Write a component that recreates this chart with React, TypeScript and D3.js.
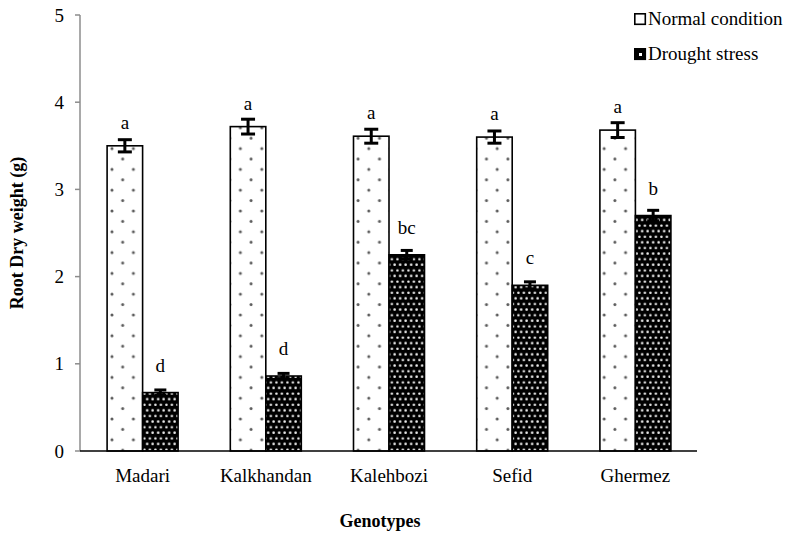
import React from 'react';
import * as d3 from 'd3';

const categories = ['Madari', 'Kalkhandan', 'Kalehbozi', 'Sefid', 'Ghermez'];
const normalValues = [3.5, 3.72, 3.61, 3.6, 3.68];
const normalErrors = [0.07, 0.085, 0.08, 0.07, 0.085];
const droughtValues = [0.67, 0.86, 2.25, 1.9, 2.7];
const droughtErrors = [0.03, 0.03, 0.05, 0.04, 0.06];
const normalLetters = ['a', 'a', 'a', 'a', 'a'];
const droughtLetters = ['d', 'd', 'bc', 'c', 'b'];
const yTicks = [0, 1, 2, 3, 4, 5];
const seriesNames = ['Normal condition', 'Drought stress'];

const W = 792;
const H = 537;
const FONT = '"Liberation Serif", "Times New Roman", serif';

export default function App() {
  const x = d3.scaleBand<string>().domain(categories).range([81, 697]).paddingInner(0).paddingOuter(0);
  const y = d3.scaleLinear().domain([0, 5]).range([451, 15]);
  const barW = 35.5;

  const series = [
    { name: seriesNames[0], values: normalValues, errors: normalErrors, letters: normalLetters, fill: 'url(#dotsLight)', offset: -barW, capW: 14 },
    { name: seriesNames[1], values: droughtValues, errors: droughtErrors, letters: droughtLetters, fill: 'url(#dotsDark)', offset: 0, capW: 12 },
  ];

  return (
    <svg width={W} height={H} style={{ position: 'absolute', left: 0, top: 0, background: '#fff' }} fontFamily={FONT}>
      <defs>
        <pattern id="dotsLight" patternUnits="userSpaceOnUse" width={21.4} height={20.8} x={112} y={0}>
          <rect width={21.4} height={20.8} fill="#fff" />
          <circle cx={0} cy={3} r={1.5} fill="#5a5a5a" />
          <circle cx={21.4} cy={3} r={1.5} fill="#5a5a5a" />
          <circle cx={10.7} cy={13.4} r={1.5} fill="#5a5a5a" />
        </pattern>
        <pattern id="dotsDark" patternUnits="userSpaceOnUse" width={5.5} height={11.2} x={0} y={0}>
          <rect width={5.5} height={11.2} fill="#000" />
          <circle cx={1.4} cy={1.6} r={1.25} fill="#f2f2f2" />
          <circle cx={4.15} cy={7.2} r={1.25} fill="#f2f2f2" />
        </pattern>
      </defs>

      {/* Y axis */}
      <line x1={80} x2={80} y1={y(5)} y2={y(0)} stroke="#8c8c8c" strokeWidth={1.5} />
      {yTicks.map((t) => (
        <g key={t}>
          <line x1={75} x2={80} y1={y(t)} y2={y(t)} stroke="#8c8c8c" strokeWidth={1.5} />
          <text x={64} y={y(t)} dy="0.35em" textAnchor="end" fontSize={19} fill="#000">{t}</text>
        </g>
      ))}

      {/* Bars */}
      {series.map((s, si) => (
        <g key={s.name}>
          {categories.map((c, i) => {
            const cx = (x(c) as number) + x.bandwidth() / 2;
            const bx = cx + s.offset;
            const top = y(s.values[i]);
            const mid = bx + barW / 2;
            const eTop = y(s.values[i] + s.errors[i]);
            const eBot = y(s.values[i] - s.errors[i]);
            return (
              <g key={c}>
                <rect x={bx} y={top} width={barW} height={y(0) - top} fill={s.fill} stroke="#000" strokeWidth={1.6} />
                <line x1={mid} x2={mid} y1={eTop} y2={eBot} stroke="#000" strokeWidth={3} />
                <line x1={mid - s.capW / 2} x2={mid + s.capW / 2} y1={eTop} y2={eTop} stroke="#000" strokeWidth={3} />
                <line x1={mid - s.capW / 2} x2={mid + s.capW / 2} y1={eBot} y2={eBot} stroke="#000" strokeWidth={3} />
                <text x={mid} y={top - (si === 0 ? 17 : 21)} textAnchor="middle" fontSize={19} fill="#000">{s.letters[i]}</text>
              </g>
            );
          })}
        </g>
      ))}

      {/* X axis */}
      <line x1={80} x2={697} y1={y(0)} y2={y(0)} stroke="#000" strokeWidth={1.6} />
      {categories.map((c) => (
        <text key={c} x={(x(c) as number) + x.bandwidth() / 2} y={482} textAnchor="middle" fontSize={19} fill="#000">{c}</text>
      ))}

      {/* Axis titles */}
      <text x={380} y={527} textAnchor="middle" fontSize={18} fontWeight="bold" fill="#000">Genotypes</text>
      <text transform={`translate(23, ${233}) rotate(-90)`} textAnchor="middle" fontSize={18} fontWeight="bold" fill="#000">Root Dry weight (g)</text>

      {/* Legend */}
      {seriesNames.map((n, i) => (
        <g key={n} transform={`translate(634, ${13 + i * 35})`}>
          <rect x={0.8} y={0.8} width={10.5} height={10.5} fill={i === 0 ? '#fff' : '#000'} stroke="#000" strokeWidth={1.6} />
          {i === 1 && <rect x={5} y={5} width={3} height={3} fill="#fff" />}
          <text x={14} y={12} fontSize={19} fill="#000">{n}</text>
        </g>
      ))}
    </svg>
  );
}
